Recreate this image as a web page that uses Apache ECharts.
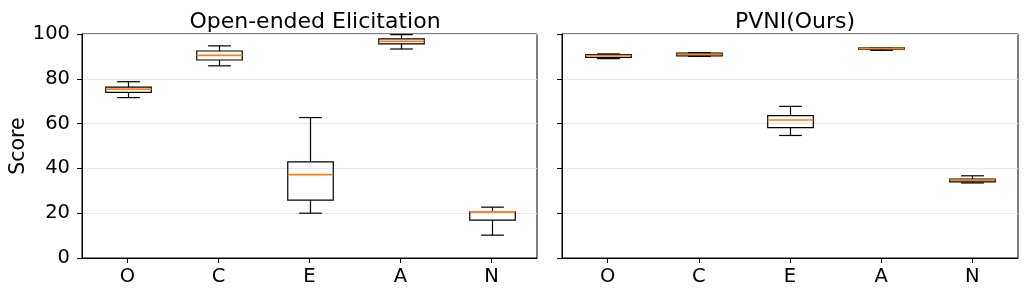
<!DOCTYPE html>
<html>
<head>
<meta charset="utf-8">
<script src="https://cdn.jsdelivr.net/npm/echarts@6/dist/echarts.min.js"></script>
<style>html,body{margin:0;padding:0;background:#fff}#c{width:1027px;height:297px}</style>
</head>
<body>
<div id="c"></div>
<script>
const categories = ['O', 'C', 'E', 'A', 'N'];
const yTicks = [0, 20, 40, 60, 80, 100];
const panelTitles = ['Open-ended Elicitation', 'PVNI(Ours)'];
// [lower whisker, Q1, median, Q3, upper whisker]
const openEnded = [
  [71.6, 73.9, 75.4, 76.3, 78.7],
  [85.8, 88.4, 90.5, 92.4, 94.7],
  [20.0, 25.8, 37.2, 42.9, 62.7],
  [93.3, 95.6, 96.7, 97.8, 99.7],
  [10.2, 16.9, 20.6, 20.7, 22.7]
];
const pvni = [
  [89.0, 89.6, 90.4, 90.8, 91.1],
  [90.0, 90.2, 90.9, 91.5, 91.7],
  [54.7, 58.2, 61.6, 63.6, 67.7],
  [92.7, 93.2, 93.6, 93.8, 93.9],
  [33.5, 34.0, 34.8, 35.2, 36.7]
];

const font = 'DejaVu Sans';
const chart = echarts.init(document.getElementById('c'), null, {renderer: 'canvas'});

function toData(arr) {
  return arr.map((s, i) => [i, s[0], s[1], s[2], s[3], s[4]]);
}

function renderBox(params, api) {
  const xi = api.value(0);
  const lo = api.coord([xi, api.value(1)]);
  const q1 = api.coord([xi, api.value(2)]);
  const md = api.coord([xi, api.value(3)]);
  const q3 = api.coord([xi, api.value(4)]);
  const hi = api.coord([xi, api.value(5)]);
  const cx = Math.round(lo[0]) + 0.5;
  const bw = api.size([1, 0])[0] * 0.5;
  const cw = bw / 2;
  const ls = {stroke: '#000', lineWidth: 1.2, fill: null};
  return {
    type: 'group',
    children: [
      {type: 'line', shape: {x1: cx, y1: lo[1], x2: cx, y2: q1[1]}, style: ls},
      {type: 'line', shape: {x1: cx, y1: q3[1], x2: cx, y2: hi[1]}, style: ls},
      {type: 'line', shape: {x1: cx - cw / 2, y1: lo[1], x2: cx + cw / 2, y2: lo[1]}, style: ls},
      {type: 'line', shape: {x1: cx - cw / 2, y1: hi[1], x2: cx + cw / 2, y2: hi[1]}, style: ls},
      {type: 'rect', shape: {x: cx - bw / 2, y: q3[1], width: bw, height: q1[1] - q3[1]}, style: {stroke: '#000', lineWidth: 1.2, fill: 'rgba(0,0,0,0)'}},
      {type: 'line', shape: {x1: cx - bw / 2, y1: md[1], x2: cx + bw / 2, y2: md[1]}, style: {stroke: '#ff7f0e', lineWidth: 1.7}}
    ]
  };
}

function yAxis(gi, showLabels) {
  return {
    type: 'value', gridIndex: gi, min: 0, max: 100, interval: 20,
    axisLine: {show: true, lineStyle: {color: '#000', width: 1}},
    axisTick: {show: true, length: 5, lineStyle: {color: '#000'}},
    axisLabel: {show: showLabels, color: '#000', fontSize: 19.5, fontFamily: font, margin: 12,
      formatter: v => yTicks.includes(v) ? String(v) : ''},
    splitLine: {show: true, lineStyle: {color: '#e8e8e8', width: 1}},
    name: showLabels ? 'Score' : '', nameLocation: 'middle', nameGap: 51, nameRotate: 90,
    nameTextStyle: {color: '#000', fontSize: 20.5, fontFamily: font}
  };
}
function xAxis(gi) {
  return {
    type: 'category', gridIndex: gi, data: categories, boundaryGap: true,
    axisLine: {show: true, lineStyle: {color: '#000', width: 1}},
    axisTick: {show: true, alignWithLabel: true, length: 5, lineStyle: {color: '#000'}},
    axisLabel: {color: '#000', fontSize: 19.5, fontFamily: font, margin: 9},
    splitLine: {show: false}
  };
}

chart.setOption({
  animation: false,
  title: [
    {text: panelTitles[0], left: 310, top: 6, textAlign: 'center', textStyle: {fontSize: 22, fontWeight: 'normal', color: '#000', fontFamily: font}},
    {text: panelTitles[1], left: 790, top: 6, textAlign: 'center', textStyle: {fontSize: 22, fontWeight: 'normal', color: '#000', fontFamily: font}}
  ],
  grid: [
    {left: 82, top: 34, width: 455, height: 224, show: true, borderColor: '#000', borderWidth: 1, backgroundColor: 'transparent'},
    {left: 562, top: 34, width: 456, height: 224, show: true, borderColor: '#000', borderWidth: 1, backgroundColor: 'transparent'}
  ],
  xAxis: [xAxis(0), xAxis(1)],
  yAxis: [yAxis(0, true), yAxis(1, false)],
  series: [
    {type: 'custom', xAxisIndex: 0, yAxisIndex: 0, renderItem: renderBox, data: toData(openEnded), encode: {x: 0, y: [1, 2, 3, 4, 5]}},
    {type: 'custom', xAxisIndex: 1, yAxisIndex: 1, renderItem: renderBox, data: toData(pvni), encode: {x: 0, y: [1, 2, 3, 4, 5]}}
  ]
});
</script>
</body>
</html>
